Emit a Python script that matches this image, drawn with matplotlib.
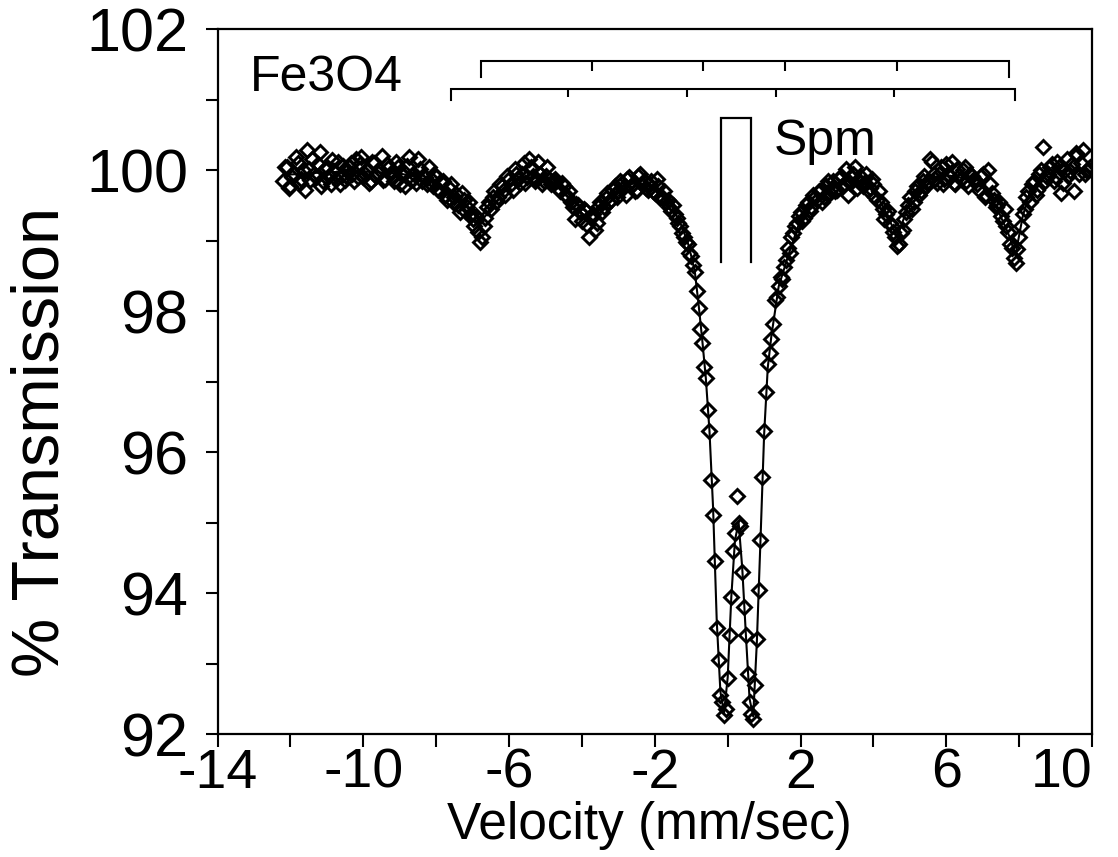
import numpy as np
import matplotlib
matplotlib.use("Agg")
import matplotlib.pyplot as plt
from matplotlib.ticker import MultipleLocator, FuncFormatter

plt.rcParams['font.family'] = ['Liberation Sans', 'DejaVu Sans']
plt.rcParams['axes.unicode_minus'] = False

# ---- data ----
# two interleaved halves of the folded spectrum (velocity channels)
vel_a = np.round(np.linspace(-12.2, 9.9, 222), 3)
trans_a = [
    99.85, 100.05, 99.78, 99.95, 100.10, 99.88, 99.72, 100.02, 100.15, 99.90,
    100.25, 99.85, 100.05, 99.80, 99.98, 100.12, 99.92, 99.86, 100.04, 99.95,
    100.15, 100.08, 99.90, 100.02, 99.84, 100.10, 99.96, 100.20, 99.88, 100.05,
    99.92, 100.12, 99.80, 99.98, 100.06, 99.86, 99.94, 100.15, 99.84, 99.90,
    100.05, 99.78, 99.90, 99.70, 99.85, 99.58, 99.80, 99.62, 99.50, 99.68,
    99.42, 99.55, 99.30, 99.35, 98.98, 99.20, 99.48, 99.45, 99.70, 99.62,
    99.78, 99.65, 99.88, 99.72, 99.95, 99.82, 100.10, 99.90, 100.05, 99.85,
    100.12, 99.80, 99.92, 99.86, 99.84, 99.85, 99.70, 99.78, 99.62, 99.55,
    99.30, 99.50, 99.28, 99.42, 99.05, 99.38, 99.25, 99.55, 99.48, 99.68,
    99.58, 99.78, 99.70, 99.82, 99.65, 99.90, 99.80, 99.72, 99.95, 99.85,
    99.72, 99.85, 99.68, 99.78, 99.62, 99.55, 99.48, 99.50, 99.32, 99.20,
    99.05, 98.95, 98.78, 98.55, 98.05, 97.55, 97.05, 96.30, 95.10, 93.50,
    92.55, 92.27, 92.80, 93.95, 94.85, 95.00, 94.30, 93.40, 92.45, 92.22,
    93.35, 94.75, 96.30, 97.25, 97.60, 98.15, 98.35, 98.45, 98.72, 98.82,
    99.10, 99.25, 99.40, 99.32, 99.55, 99.48, 99.62, 99.70, 99.55, 99.78,
    99.68, 99.85, 99.72, 99.92, 99.80, 99.65, 99.90, 100.05, 99.85, 99.78,
    99.95, 99.75, 99.80, 99.58, 99.55, 99.30, 99.42, 99.20, 99.05, 98.95,
    99.15, 99.40, 99.62, 99.55, 99.78, 99.70, 99.92, 99.85, 100.12, 99.88,
    99.95, 99.80, 100.08, 99.90, 99.82, 100.02, 99.88, 100.05, 99.78, 99.92,
    99.85, 99.72, 99.95, 99.65, 99.80, 99.58, 99.50, 99.35, 99.45, 99.12,
    98.90, 98.68, 99.05, 99.38, 99.62, 99.55, 99.85, 99.72, 100.00, 99.85,
    99.95, 100.08, 99.90, 100.05, 99.82, 100.15, 99.98, 99.70, 100.22, 100.10,
    99.95, 100.02,
]
vel_b = np.round(np.linspace(-12.15, 9.95, 222), 3)
trans_b = [
    100.05, 99.75, 99.90, 100.18, 99.82, 100.00, 100.28, 99.86, 99.95, 100.08,
    99.78, 100.02, 99.92, 100.14, 99.88, 99.80, 100.06, 99.98, 100.10, 99.85,
    99.90, 100.18, 99.95, 99.82, 100.12, 99.92, 100.00, 99.86, 100.08, 99.96,
    99.85, 100.05, 99.95, 99.78, 100.18, 99.88, 99.82, 100.02, 99.92, 99.80,
    99.88, 99.95, 99.72, 99.82, 99.64, 99.75, 99.55, 99.66, 99.40, 99.58,
    99.48, 99.38, 99.20, 99.12, 99.05, 99.32, 99.55, 99.62, 99.55, 99.80,
    99.72, 99.92, 99.80, 100.02, 99.88, 99.95, 99.82, 100.15, 99.92, 99.88,
    99.95, 99.85, 100.05, 99.80, 99.88, 99.75, 99.82, 99.65, 99.70, 99.48,
    99.52, 99.40, 99.45, 99.22, 99.32, 99.15, 99.48, 99.40, 99.60, 99.55,
    99.72, 99.62, 99.85, 99.76, 99.88, 99.78, 99.70, 99.92, 99.80, 99.75,
    99.80, 99.70, 99.88, 99.60, 99.70, 99.58, 99.42, 99.38, 99.25, 99.10,
    98.98, 98.82, 98.65, 98.28, 97.75, 97.20, 96.60, 95.60, 94.45, 93.05,
    92.45, 92.35, 93.40, 94.60, 95.38, 94.95, 93.80, 92.85, 92.28, 92.70,
    94.05, 95.65, 96.85, 97.40, 97.82, 98.20, 98.48, 98.62, 98.90, 99.05,
    99.20, 99.35, 99.28, 99.50, 99.42, 99.65, 99.58, 99.72, 99.62, 99.85,
    99.75, 99.70, 99.88, 99.78, 100.02, 99.82, 99.95, 99.75, 99.90, 99.82,
    99.72, 99.88, 99.62, 99.70, 99.45, 99.38, 99.25, 99.12, 98.92, 99.10,
    99.30, 99.50, 99.45, 99.70, 99.65, 99.85, 99.78, 100.15, 99.95, 99.82,
    100.05, 99.88, 99.95, 100.12, 99.80, 99.92, 100.00, 99.85, 99.95, 99.88,
    99.80, 99.92, 99.62, 100.00, 99.68, 99.48, 99.55, 99.28, 99.20, 98.95,
    98.75, 98.88, 99.20, 99.45, 99.70, 99.80, 99.65, 99.95, 100.33, 99.90,
    100.05, 99.85, 100.12, 99.68, 100.00, 99.92, 100.08, 100.24, 99.95, 100.28,
    99.98, 100.05,
]
# fitted curve read at nodes
fit_v = [-12.2, -11.0, -10.0, -9.0, -8.5, -8.0, -7.6, -7.2, -7.0, -6.8,
         -6.6, -6.4, -6.0, -5.5, -5.0, -4.6, -4.3, -4.0, -3.75, -3.5,
         -3.2, -3.0, -2.5, -2.0, -1.6, -1.3, -1.1, -1.0, -0.9, -0.8,
         -0.7, -0.6, -0.5, -0.4, -0.3, -0.2, -0.1, 0.0, 0.1, 0.2,
         0.3, 0.4, 0.5, 0.6, 0.7, 0.8, 0.9, 1.0, 1.1, 1.2,
         1.4, 1.7, 2.0, 2.5, 3.0, 3.5, 4.0, 4.3, 4.65, 5.0,
         5.5, 6.0, 6.5, 7.0, 7.4, 7.7, 7.9, 8.1, 8.3, 8.6,
         9.0, 9.5, 9.95]
fit_t = [99.93, 99.97, 99.98, 99.95, 99.9, 99.82, 99.7, 99.52, 99.4, 99.25,
         99.38, 99.6, 99.8, 99.9, 99.88, 99.78, 99.62, 99.46, 99.35, 99.5,
         99.68, 99.75, 99.82, 99.75, 99.55, 99.25, 98.98, 98.78, 98.55, 98.1,
         97.6, 97.05, 96.3, 95.2, 93.6, 92.6, 92.3, 92.8, 93.95, 94.75,
         95.0, 94.35, 93.4, 92.5, 92.25, 93.3, 94.75, 96.25, 97.2, 97.65,
         98.35, 98.85, 99.3, 99.6, 99.8, 99.88, 99.72, 99.45, 99.05, 99.55,
         99.88, 99.93, 99.88, 99.75, 99.45, 99.1, 98.8, 99.35, 99.7, 99.9,
         99.98, 100.0, 99.98]

# stick diagrams (line positions, mm/s)
sextet_a = [-6.77, -3.72, -0.675, 1.575, 4.65, 7.72]
sextet_b = [-7.59, -4.38, -1.11, 1.33, 4.57, 7.89]
spm_lines = [-0.18, 0.64]

x_ticks_labeled = [-14, -10, -6, -2, 2, 6, 10]
y_ticks_labeled = [92, 94, 96, 98, 100, 102]

# ---- figure ----
fig = plt.figure(figsize=(11.18, 8.57), dpi=100)
ax = fig.add_axes([0.1946, 0.1435, 0.7822, 0.8226])

ax.plot(fit_v, fit_t, color='black', lw=1.5, zorder=2)
for v, t in ((vel_a, trans_a), (vel_b, trans_b)):
    ax.plot(v, t, ls='none', marker='D', ms=7.2, mfc='none', mec='black',
            mew=2.1, zorder=3)

def bracket(lines, y_line, y_end, y_inner):
    ax.plot([lines[0], lines[0], lines[-1], lines[-1]],
            [y_end, y_line, y_line, y_end], color='black', lw=1.5,
            solid_joinstyle='miter', zorder=4)
    ax.vlines(lines[1:-1], y_inner, y_line, color='black', lw=1.5, zorder=4)

bracket(sextet_a, 101.55, 101.32, 101.40)
bracket(sextet_b, 101.15, 100.99, 101.04)

ax.plot([spm_lines[0], spm_lines[0], spm_lines[1], spm_lines[1]],
        [98.70, 100.74, 100.74, 98.70], color='black', lw=1.6,
        solid_joinstyle='miter', zorder=4)

ax.text(-13.11, 101.12, 'Fe3O4', fontsize=36, ha='left', va='baseline')
ax.text(1.25, 100.21, 'Spm', fontsize=36, ha='left', va='baseline')

ax.set_xlim(-14, 10)
ax.set_ylim(92, 102)
ax.xaxis.set_major_locator(MultipleLocator(2))
ax.yaxis.set_major_locator(MultipleLocator(1))
ax.xaxis.set_major_formatter(FuncFormatter(
    lambda v, p: str(int(round(v))) if int(round(v)) in x_ticks_labeled else ''))
ax.yaxis.set_major_formatter(FuncFormatter(
    lambda v, p: str(int(round(v))) if int(round(v)) in y_ticks_labeled else ''))
ax.tick_params(axis='both', direction='out', length=9, width=1.5,
               top=False, right=False)
ax.tick_params(axis='x', labelsize=40, pad=1)
ax.tick_params(axis='y', labelsize=44, pad=12)
for s in ax.spines.values():
    s.set_linewidth(1.6)

fig.text(42 / 1118, 1 - 442 / 857, '% Transmission', rotation=90,
         fontsize=48, ha='center', va='center')
fig.text(649 / 1118, 1 - 826 / 857, 'Velocity (mm/sec)', fontsize=37,
         ha='center', va='center')

# keep the last velocity label inside the figure, as in the reference
fig.canvas.draw()
for lab in ax.get_xticklabels():
    if lab.get_text() == '10':
        lab.set_horizontalalignment('right')
        lab.set_x(10.08)

fig.savefig('out.png', dpi=100, facecolor='white')
